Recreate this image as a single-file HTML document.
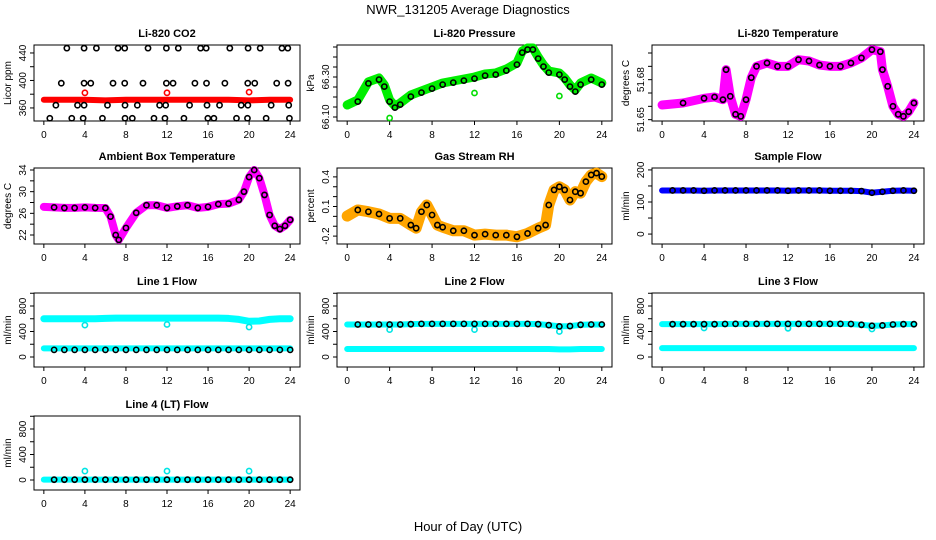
<!DOCTYPE html>
<html><head><meta charset="utf-8"><style>
body{margin:0;background:#fff;}
svg{display:block;font-family:"Liberation Sans",sans-serif;}
</style></head><body>
<svg id="chart" width="936" height="540" viewBox="0 0 936 540">
<text x="468" y="14" text-anchor="middle" font-size="13">NWR_131205  Average Diagnostics</text>
<text x="468" y="531" text-anchor="middle" font-size="13">Hour of Day (UTC)</text>
</svg>
<script>
// ---- data ----
const hours25 = [0,1,2,3,4,5,6,7,8,9,10,11,12,13,14,15,16,17,18,19,20,21,22,23,24];
const co2Hours = [0,2,4,6,8,10,12,14,16,18,20,22,24];
const co2Band = [372,372,372,371,372,372,372,372,372,372,371,372,372];
const co2RedHours = [4,12,20];
const co2RedVals = [382,382,383];
const co2BlackHours = [2.24,3.92,5.12,7.23,7.88,10.15,11.94,13.1,15.27,15.82,18.12,19.9,21.08,23.2,23.77,
 1.7,3.92,4.57,6.74,7.88,9.66,11.94,12.59,14.72,15.85,17.64,19.87,20.55,22.69,23.8,
 1.17,3.28,3.92,6.2,7.91,9.11,11.28,11.87,14.2,15.9,17.12,19.23,19.88,22.15,23.86,
 0.58,2.72,3.83,5.71,7.91,8.62,10.73,11.8,13.65,15.98,16.57,18.77,19.84,21.66,23.93];
const co2BlackVals = [447,447,447,447,447,447,447,447,447,447,447,447,447,447,447,
 396,396,396,396,396,396,396,396,396,396,396,396,396,396,396,
 364,364,364,364,364,364,364,364,364,364,364,364,364,364,364,
 345,345,345,345,345,345,345,345,345,345,345,345,345,345,345];

const presHours = [0,1,2,3,3.5,4,4.5,5,6,7,8,9,10,11,12,13,14,15,16,16.5,17,17.5,18,18.5,19,20,20.5,21,21.5,22,23,24];
const presVals = [66.16,66.185,66.276,66.295,66.26,66.185,66.155,66.17,66.21,66.23,66.25,66.27,66.28,66.29,66.30,66.315,66.32,66.34,66.37,66.43,66.445,66.445,66.40,66.36,66.33,66.32,66.295,66.26,66.235,66.27,66.295,66.27];
const presOutHours = [4,12,20];
const presOutVals = [66.095,66.22,66.205];

const tempHours = [0,2,4,5,5.8,6.1,6.5,7,7.5,8,8.5,9,10,11,12,13,14,15,16,17,18,19,20,20.8,21,21.5,22,22.5,23,23.5,24];
const tempVals = [51.661,51.6625,51.666,51.667,51.665,51.6875,51.6675,51.654,51.6525,51.665,51.6815,51.69,51.6925,51.69,51.69,51.695,51.694,51.691,51.69,51.69,51.6925,51.6963,51.7025,51.701,51.6875,51.675,51.66,51.654,51.6525,51.656,51.6625];

const ambHours = [0,1,2,3,4,5,6,6.5,7,7.3,8,9,10,11,12,13,14,15,16,17,18,19,19.5,20,20.5,21,21.5,22,22.5,23,23.5,24];
const ambVals = [27.2,27.1,27.0,27.0,27.1,27.0,26.98,25.4,22,21.1,23.3,26.1,27.5,27.5,27,27.3,27.5,27,27.2,27.7,27.8,28.5,30,32.7,34,32.5,29.4,25.7,23.7,23.1,23.7,24.8];

const rhHours = [0,1,2,3,4,5,6,6.5,7,7.5,8,8.5,9,10,11,12,13,14,15,16,17,18,18.7,19,19.5,20,20.5,21,21.5,22,22.5,23,23.5,24];
const rhVals = [0.003,0.065,0.047,0.024,-0.02,-0.02,-0.088,-0.12,0.047,0.115,0.014,-0.088,-0.11,-0.146,-0.146,-0.19,-0.18,-0.19,-0.19,-0.207,-0.173,-0.12,-0.088,0.115,0.268,0.30,0.268,0.166,0.25,0.235,0.352,0.42,0.438,0.403];

const sampleVals = [136,136,136,136,135,136,136,136,136,136,136,136,135,136,136,136,135,135,135,134,129,132,135,136,135];

const line1Upper = [600,600,600,600,600,600,605,610,610,610,610,610,610,610,610,610,610,610,605,590,560,565,590,600,600];
const line1Lower = [135,135,135,135,135,135,135,135,135,135,135,135,135,135,135,135,135,135,135,135,135,135,135,135,135];
const line1Black = [112,112,112,112,112,112,112,112,112,112,112,112,112,112,112,112,112,112,112,112,112,112,112,112,112];
const line1Dots = [500,510,470];
const line2Upper = [510,510,510,510,510,510,515,520,520,520,520,520,520,520,520,520,520,520,515,500,480,485,505,510,510];
const line2Lower = [125,125,125,125,125,125,125,125,125,125,125,125,125,125,125,125,125,125,125,125,120,120,125,125,125];
const line2Dots = [430,430,400];
const line3Upper = [515,515,515,515,515,515,518,520,520,520,520,520,520,520,520,520,520,520,518,505,490,495,510,515,515];
const line3Lower = [140,140,140,140,140,140,140,140,140,140,140,140,140,140,140,140,140,140,140,140,140,140,140,140,140];
const line3Dots = [455,450,440];
const line4Black = [5,5,5,5,5,5,5,5,5,5,5,5,5,5,5,5,5,5,5,5,5,5,5,5,5];
const line4Dots = [140,140,140];
const dotHours = [4,12,20];
const xTicks = [0,4,8,12,16,20,24];

// ---- drawing ----
const NS = "http://www.w3.org/2000/svg";
const svg = document.getElementById("chart");
function mk(tag, attrs, parent){
  const e = document.createElementNS(NS, tag);
  for (const k in attrs) e.setAttribute(k, attrs[k]);
  (parent||svg).appendChild(e);
  return e;
}
const cols = [[34,300],[337,612],[652,924]];
const rows = [[45,121],[168,244],[293,367],[416,490]];

function panel(c, r, ymin, ymax, yticks, ylabels, title, ylab, name){
  const [l,rt] = cols[c], [t,b] = rows[r];
  const g = mk("g", {});
  
  
  const sx = h => l + (h + 0.96) / 25.92 * (rt - l);
  const sy = v => b - (v - ymin) / (ymax - ymin) * (b - t);
  const tt = mk("text", {x:(l+rt)/2, y:t-8, "text-anchor":"middle", "font-size":"11", "font-weight":"bold"}, g);
  tt.textContent = title;
  
  
  const box = mk("rect", {x:l, y:t, width:rt-l, height:b-t, fill:"none", stroke:"#000", "stroke-width":"1"}, g);
  
  
  const xa = mk("g", {}, g);
  
  
  xTicks.forEach(h => {
    mk("line", {x1:sx(h), x2:sx(h), y1:b, y2:b+4, stroke:"#000"}, xa);
    const tx = mk("text", {x:sx(h), y:b+17, "text-anchor":"middle", "font-size":"10"}, xa);
    tx.textContent = h;
  });
  const ya = mk("g", {}, g);
  
  
  yticks.forEach(v => mk("line", {x1:l-4, x2:l, y1:sy(v), y2:sy(v), stroke:"#000"}, ya));
  ylabels.forEach(v => {
    const tx = mk("text", {x:0, y:0, "text-anchor":"middle", "font-size":"10",
      transform:`translate(${l-8},${sy(v)}) rotate(-90)`}, ya);
    tx.textContent = v;
  });
  const yl = mk("text", {x:0, y:0, "text-anchor":"middle", "font-size":"10",
    transform:`translate(${l-23},${(t+b)/2}) rotate(-90)`}, g);
  yl.textContent = ylab;
  
  
  return {g, sx, sy};
}
function band(p, xs, ys, color, w, nm){
  const pl = mk("polyline", {points: xs.map((h,i)=>p.sx(h)+","+p.sy(ys[i])).join(" "),
    fill:"none", stroke:color, "stroke-width":w, "stroke-linejoin":"round", "stroke-linecap":"round"}, p.g);
  
  
}
function pts(p, xs, ys, color, nm, skip0){
  const g = mk("g", {}, p.g);
  
  
  xs.forEach((h,i)=>{
    if (skip0 && h === 0) return;
    mk("circle", {cx:p.sx(h), cy:p.sy(ys[i]), r:2.6, fill:"none", stroke:color, "stroke-width":"1.6"}, g);
  });
}
const flowTicks = [0,200,400,600,800,1000], flowLabels = [0,400,800];

let p = panel(0,0,341,451.6,[360,380,400,420,440],[360,400,440],"Li-820 CO2","Licor ppm","co2");
band(p, co2Hours, co2Band, "#ff0000", 6, "co2-minute-series");
pts(p, co2RedHours, co2RedVals, "#ff0000", "co2-calibration-points");
pts(p, co2BlackHours, co2BlackVals, "#000", "co2-average-points");

p = panel(1,0,66.08,66.46,[66.10,66.15,66.20,66.25,66.30,66.35,66.40,66.45],["66.10","66.30"],"Li-820 Pressure","kPa","pressure");
band(p, presHours, presVals, "#00ee00", 9, "pressure-minute-series");
pts(p, presOutHours, presOutVals, "#00dd00", "pressure-outliers");
pts(p, presHours, presVals.map(v=>v-0.008), "#000", "pressure-average-points", true);

p = panel(2,0,51.649,51.706,[51.65,51.66,51.67,51.68,51.69,51.70],["51.65","51.68"],"Li-820 Temperature","degrees C","temperature");
band(p, tempHours, tempVals, "#ff00ff", 9, "temperature-minute-series");
pts(p, tempHours, tempVals, "#000", "temperature-average-points", true);

p = panel(0,1,20.34,34.37,[22,24,26,28,30,32,34],[22,26,30,34],"Ambient Box Temperature","degrees C","ambient");
band(p, ambHours, ambVals, "#ff00ff", 8, "ambient-minute-series");
pts(p, ambHours, ambVals, "#000", "ambient-average-points", true);

p = panel(1,1,-0.28,0.49,[-0.2,-0.1,0,0.1,0.2,0.3,0.4],["-0.2","0.1","0.4"],"Gas Stream RH","percent","rh");
band(p, rhHours, rhVals, "#ffa500", 11, "rh-minute-series");
pts(p, rhHours, rhVals, "#000", "rh-average-points", true);

p = panel(2,1,-31,206,[0,50,100,150,200],[0,100,200],"Sample Flow","ml/min","sample-flow");
band(p, hours25, sampleVals, "#0000ff", 6, "sample-flow-minute-series");
pts(p, hours25, sampleVals, "#000", "sample-flow-average-points", true);

p = panel(0,2,-157,1004,flowTicks,flowLabels,"Line 1 Flow","ml/min","line1-flow");
band(p, hours25, line1Upper, "#00ffff", 7, "line1-upper-series");
band(p, hours25, line1Lower, "#00ffff", 6, "line1-lower-series");
pts(p, dotHours, line1Dots, "#00e5e5", "line1-cal-points");
pts(p, hours25, line1Black, "#000", "line1-average-points", true);

p = panel(1,2,-157,1004,flowTicks,flowLabels,"Line 2 Flow","ml/min","line2-flow");
band(p, hours25, line2Upper, "#00ffff", 6, "line2-upper-series");
band(p, hours25, line2Lower, "#00ffff", 6, "line2-lower-series");
pts(p, dotHours, line2Dots, "#00e5e5", "line2-cal-points");
pts(p, hours25, line2Upper, "#000", "line2-average-points", true);

p = panel(2,2,-157,1004,flowTicks,flowLabels,"Line 3 Flow","ml/min","line3-flow");
band(p, hours25, line3Upper, "#00ffff", 6, "line3-upper-series");
band(p, hours25, line3Lower, "#00ffff", 6, "line3-lower-series");
pts(p, dotHours, line3Dots, "#00e5e5", "line3-cal-points");
pts(p, hours25, line3Upper, "#000", "line3-average-points", true);

p = panel(0,3,-157,1004,flowTicks,flowLabels,"Line 4 (LT) Flow","ml/min","line4-flow");
band(p, hours25, line4Black, "#00ffff", 6, "line4-series");
pts(p, dotHours, line4Dots, "#00e5e5", "line4-cal-points");
pts(p, hours25, line4Black, "#000", "line4-average-points", true);
</script>
</body></html>
